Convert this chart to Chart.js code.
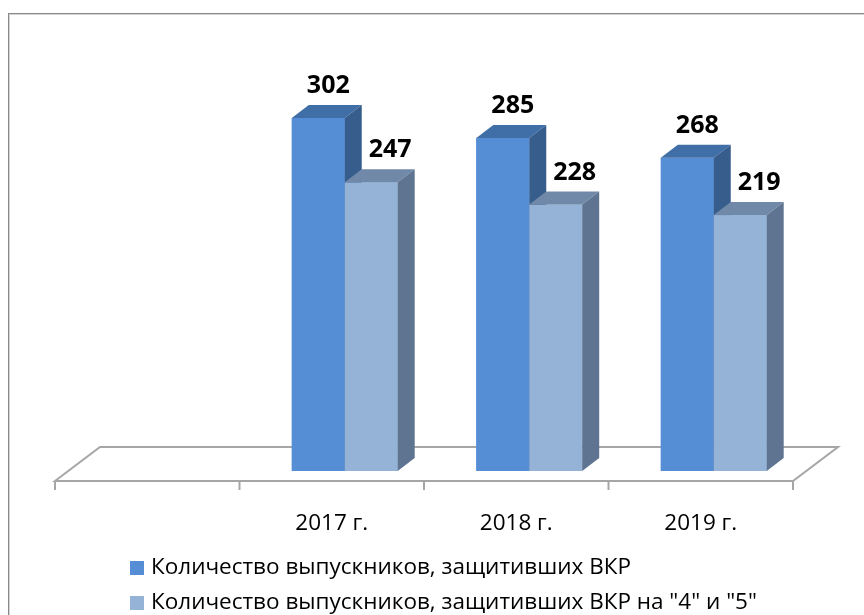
<!DOCTYPE html>
<html>
<head>
<meta charset="utf-8">
<script src="https://cdn.jsdelivr.net/npm/chart.js@4"></script>
<style>
  body { margin: 0; background: #fff; }
  #wrap { width: 864px; height: 615px; position: relative; }
</style>
</head>
<body>
<div id="wrap"><canvas id="chart" width="864" height="615"></canvas></div>
<script>
// data
const years = ['', '2017 г.', '2018 г.', '2019 г.'];
const defended = [null, 302, 285, 268];
const defendedGood = [null, 247, 228, 219];
const seriesNames = [
    'Количество выпускников, защитивших ВКР',
    'Количество выпускников, защитивших ВКР на "4" и "5"'
];

const FONT = '"Open Sans", "Noto Sans", sans-serif';
const depthX = 17, depthY = 13;   // fake 3d depth
const shift = 13;                 // floor sits a bit left of the bars
const labelShift = [10, 19];      // value labels sit right of the bar centre

// front / top / side shades for each series
const faces = [
    {front: '#558ED5', top: '#406EA6', side: '#375D8C'},
    {front: '#95B3D7', top: '#7089A8', side: '#5E7490'}
];

const box3d = {
    id: 'box3d',
    beforeDraw(chart) {
        const ctx = chart.ctx;
        // outer frame
        ctx.save();
        ctx.strokeStyle = '#8a8a8a';
        ctx.lineWidth = 1;
        ctx.strokeRect(8.5, 13.5, 900, 700);
        ctx.strokeStyle = '#d4d4d4';
        ctx.strokeRect(9.5, 14.5, 900, 700);
        ctx.restore();
    },
    beforeDatasetsDraw(chart) {
        // floor of the 3d plot
        const ctx = chart.ctx;
        const x = chart.scales.x, y = chart.scales.y;
        const left = x.left - shift, right = x.right - shift;
        const front = y.getPixelForValue(0) + 10;
        const back = front - 34;
        ctx.save();
        ctx.strokeStyle = '#a6a6a6';
        ctx.lineWidth = 2;
        ctx.beginPath();
        ctx.moveTo(left, front);
        ctx.lineTo(left + 45, back);
        ctx.lineTo(right + 45, back);
        ctx.lineTo(right, front);
        ctx.closePath();
        ctx.stroke();
        // ticks between categories
        const n = years.length;
        for (let i = 0; i <= n; i++) {
            const tx = left + (right - left) * i / n;
            ctx.beginPath();
            ctx.moveTo(tx, front);
            ctx.lineTo(tx, front + 9);
            ctx.stroke();
        }
        // category labels
        ctx.fillStyle = '#000';
        ctx.font = '22.5px ' + FONT;
        ctx.textAlign = 'center';
        ctx.textBaseline = 'middle';
        years.forEach(function (lab, i) {
            ctx.fillText(lab, x.getPixelForValue(i) - shift, front + 43);
        });
        ctx.restore();
    },
    afterDatasetsDraw(chart) {
        // draw the boxes series by series so the lighter one sits over the darker side
        const ctx = chart.ctx;
        ctx.save();
        chart.data.datasets.forEach(function (ds, di) {
            const f = faces[di];
            chart.getDatasetMeta(di).data.forEach(function (bar, i) {
                if (ds.data[i] == null) return;
                const l = bar.x - bar.width / 2, r = bar.x + bar.width / 2;
                const t = bar.y, b = bar.base;
                ctx.fillStyle = f.front;
                ctx.fillRect(l, t, r - l, b - t);
                ctx.fillStyle = f.top;
                ctx.beginPath();
                ctx.moveTo(l, t);
                ctx.lineTo(l + depthX, t - depthY);
                ctx.lineTo(r + depthX, t - depthY);
                ctx.lineTo(r, t);
                ctx.closePath();
                ctx.fill();
                ctx.fillStyle = f.side;
                ctx.beginPath();
                ctx.moveTo(r, t);
                ctx.lineTo(r + depthX, t - depthY);
                ctx.lineTo(r + depthX, b - depthY);
                ctx.lineTo(r, b);
                ctx.closePath();
                ctx.fill();
            });
        });
        ctx.restore();
    },
    afterDraw(chart) {
        const ctx = chart.ctx;
        ctx.save();
        // value labels
        ctx.fillStyle = '#000';
        ctx.font = 'bold 25px ' + FONT;
        ctx.textAlign = 'center';
        ctx.textBaseline = 'alphabetic';
        chart.data.datasets.forEach(function (ds, di) {
            chart.getDatasetMeta(di).data.forEach(function (bar, i) {
                if (ds.data[i] == null) return;
                ctx.fillText(ds.data[i], bar.x + labelShift[di], bar.y - 25);
            });
        });
        // legend
        ctx.font = '22.5px ' + FONT;
        ctx.textAlign = 'left';
        ctx.textBaseline = 'middle';
        seriesNames.forEach(function (name, i) {
            const ly = 568 + i * 35;
            ctx.fillStyle = faces[i].front;
            ctx.fillRect(130, ly - 7, 14, 14);
            ctx.fillStyle = '#000';
            ctx.fillText(name, 151, ly);
        });
        ctx.restore();
    }
};

new Chart(document.getElementById('chart'), {
    type: 'bar',
    data: {
        labels: years,
        datasets: [
            {label: seriesNames[0], data: defended, backgroundColor: faces[0].front,
             barPercentage: 1, categoryPercentage: 0.574},
            {label: seriesNames[1], data: defendedGood, backgroundColor: faces[1].front,
             barPercentage: 1, categoryPercentage: 0.574}
        ]
    },
    options: {
        responsive: false,
        animation: false,
        layout: {padding: {left: 68, right: 58, top: 62, bottom: 144}},
        plugins: {legend: {display: false}, tooltip: {enabled: false}},
        scales: {
            x: {display: false},
            y: {display: false, min: 0, max: 350}
        }
    },
    plugins: [box3d]
});
</script>
</body>
</html>
